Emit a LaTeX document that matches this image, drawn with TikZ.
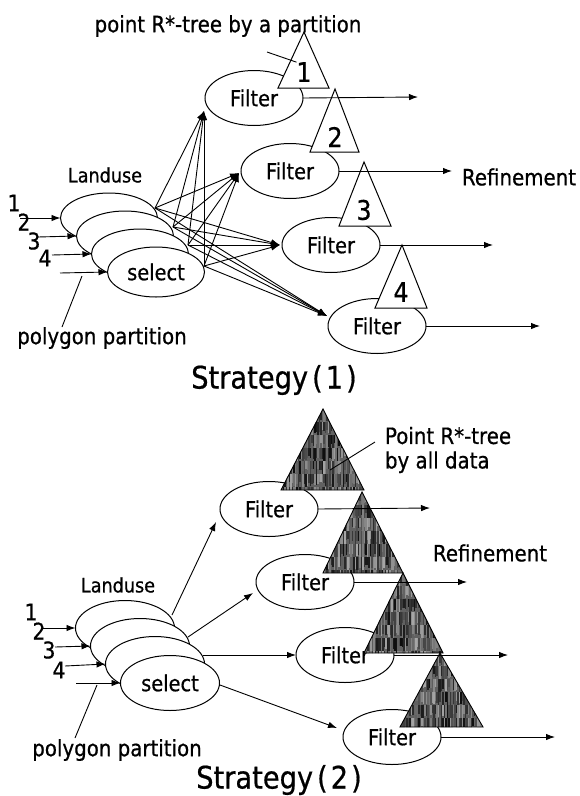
\documentclass[tikz,border=0pt]{standalone}
\usepackage{fontspec}
\setmainfont{DejaVu Sans}[FakeStretch=0.88,FakeBold=0.6]
\usetikzlibrary{shapes.geometric,arrows.meta}
\newcommand\myfs[1]{\fontsize{#1}{#1}\selectfont}
% textured dark triangle: apex x, apex y, left x, right x, base y
\newcommand\dtri[5]{%
  \begin{scope}
    \clip (#1,#2) -- (#4,#5) -- (#3,#5) -- cycle;
    \fill[black!62] (#3,#2) rectangle (#4,#5);
    \foreach \i in {0,...,56}{%
      \foreach \j in {0,...,6}{%
        \pgfmathrandominteger{\g}{35}{95}%
        \pgfmathrandominteger{\h}{8}{16}%
        \fill[black!\g] ({#3+1.5*\i},{#2+13*\j}) rectangle ++(1.6,\h);
      }%
    }%
  \end{scope}
  \draw[line width=0.9pt] (#1,#2) -- (#4,#5) -- (#3,#5) -- cycle;
}
\begin{document}
\begin{tikzpicture}[x=1pt,y=-1pt,
  every node/.style={inner sep=0pt,outer sep=0pt},
  ell/.style={draw,ellipse,fill=white,line width=1pt},
  filt/.style={ell,minimum width=98pt,minimum height=55pt,font=\myfs{22}},
  landA/.style={ell,minimum width=97pt,minimum height=50pt,font=\myfs{22}},
  landB/.style={ell,minimum width=99pt,minimum height=55pt,font=\myfs{22}},
  lbl/.style={font=\myfs{22.5}},
  lnd/.style={font=\myfs{20}},
  num/.style={font=\myfs{23}},
  tnum/.style={font=\myfs{27}},
  ttl/.style={font=\myfs{31}},
  arr/.style={-{Latex[length=9pt,width=6.5pt]},line width=0.9pt},
  ln/.style={line width=0.9pt},
  tri/.style={draw,fill=white,line width=1pt}]
\useasboundingbox (0,0) rectangle (580,796);
\fill[white] (0,0) rectangle (580,796);
\pgfmathsetseed{4242}

% ---------------- Strategy (1) ----------------
\node[filt] (f1) at (254,98) {Filter};
\node[filt] (f2) at (290,171) {Filter};
\node[filt] (f3) at (331,245) {Filter};
\node[filt] (f4) at (377,326) {Filter};

\node[landA] (l1) at (109,218) {};
\node[landA] (l2) at (125,236) {};
\node[landA] (l3) at (140,254) {};
\node[landA] (l4) at (156,272) {select};

\coordinate (s1) at (155,208);
\coordinate (s2) at (173,227);
\coordinate (s3) at (188,245);
\coordinate (s4) at (204,266);
\coordinate (t1) at (204,111);
\coordinate (t2) at (239,173);
\coordinate (t3) at (280,245);
\coordinate (t4) at (327,316);
\foreach \s in {s1,s2,s3,s4}
  \foreach \t in {t1,t2,t3,t4}
    \draw[arr] (\s) -- (\t);

% tree triangles (white)
\draw[tri] (304,32) -- (329,88) -- (278,88) -- cycle;
\draw[tri] (335,89) -- (359,152) -- (310,152) -- cycle;
\draw[tri] (364,162) -- (391,226) -- (339,226) -- cycle;
\draw[tri] (402,245) -- (427,308) -- (375,308) -- cycle;
\node[tnum] (n1) at (304,72) {1};
\node[tnum] (n2) at (335,137) {2};
\node[tnum] (n3) at (364,210) {3};
\node[tnum] (n4) at (401,292) {4};

\node[lbl] (title1) at (228,26) {point R*-tree by a partition};
\coordinate (tl1) at (267,52);
\draw[ln] (tl1) -- (n1.north west);

% outputs
\coordinate (o1) at (418,97);
\coordinate (o2) at (452,171);
\coordinate (o3) at (493,245);
\coordinate (o4) at (540,326);
\draw[arr] (f1.east) -- (o1);
\draw[arr] (f2.east) -- (o2);
\draw[arr] (f3.east) -- (o3);
\draw[arr] (f4.east) -- (o4);
\node[lbl] (ref1) at (519,177) {Refinement};

% inputs
\node[lnd] (land1) at (105,175) {Landuse};
\node[num] (i1) at (14,203) {1};
\node[num] (i2) at (24,222) {2};
\node[num] (i3) at (34,241) {3};
\node[num] (i4) at (45,258) {4};
\coordinate (a1) at (20,218);
\coordinate (a2) at (38,237);
\coordinate (a3) at (52,255);
\coordinate (a4) at (60,273);
\draw[arr] (a1) -- (l1.west);
\draw[arr] (a2) -- (l2.west);
\draw[arr] (a3) -- (l3.west);
\draw[arr] (a4) -- (l4.west);
\node[lbl] (pp1) at (102,338) {polygon partition};
\coordinate (pl1) at (82,276);
\draw[ln] (62,327) -- (pl1);

\node[ttl] (st1) at (274,380) {Strategy\hspace{4pt}(\hspace{3pt}1\hspace{3pt})};

% ---------------- Strategy (2) ----------------
\node[filt] (g1) at (269,509) {Filter};
\node[filt] (g2) at (305,582) {Filter};
\node[filt] (g3) at (345,655) {Filter};
\node[filt] (g4) at (392,737) {Filter};

\node[landB] (m1) at (125,628) {};
\node[landB] (m2) at (140,646) {};
\node[landB] (m3) at (155,664) {};
\node[landB] (m4) at (170,683) {select};

\coordinate (u1) at (172,615);
\coordinate (u2) at (188,637);
\coordinate (u3) at (203,655);
\coordinate (u4) at (220,685);
\draw[arr] (u1) -- (216,522);
\draw[arr] (u2) -- (253,593);
\draw[arr] (u3) -- (g3.west);
\draw[arr] (u4) -- (337,728);

\dtri{323}{409}{281}{364}{490}
\dtri{362}{492}{323}{403}{573}
\dtri{403}{573}{364}{443}{653}
\dtri{440}{653}{400}{483}{727}

\coordinate (p1) at (430,508);
\coordinate (p2) at (467,582);
\coordinate (p3) at (508,655);
\coordinate (p4) at (555,737);
\draw[arr] (g1.east) -- (p1);
\draw[arr] (g2.east) -- (p2);
\draw[arr] (g3.east) -- (p3);
\draw[arr] (g4.east) -- (p4);

\node[lbl,align=left,anchor=west] (tree2) at (385,450) {Point R*-tree\\[2pt]by all data};
\coordinate (tl2) at (330,470);
\draw[ln] (tl2) -- (375,442);
\node[lbl] (ref2) at (490,553) {Refinement};

\node[lnd] (land2) at (118,585) {Landuse};
\node[num] (j1) at (31,612) {1};
\node[num] (j2) at (39,631) {2};
\node[num] (j3) at (49,650) {3};
\node[num] (j4) at (59,670) {4};
\coordinate (b1) at (43,628);
\coordinate (b2) at (55,647);
\coordinate (b3) at (65,666);
\coordinate (b4) at (76,683);
\draw[arr] (b1) -- (m1.west);
\draw[arr] (b2) -- (m2.west);
\draw[arr] (b3) -- (m3.west);
\draw[arr] (b4) -- (m4.west);
\node[lbl] (pp2) at (117,750) {polygon partition};
\coordinate (pl2) at (97,685);
\draw[ln] (75,738) -- (pl2);

\node[ttl] (st2) at (279,780) {Strategy\hspace{4pt}(\hspace{3pt}2\hspace{3pt})};
\end{tikzpicture}
\end{document}
